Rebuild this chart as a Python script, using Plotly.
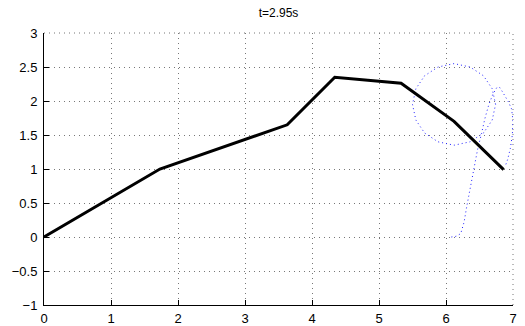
import plotly.graph_objects as go

# Arm links (joint positions)
arm_x = [0.0, 1.73, 3.63, 4.34, 5.33, 6.12, 6.86]
arm_y = [0.0, 1.00, 1.65, 2.35, 2.26, 1.70, 0.99]

# Target circle
circle_x = [6.74, 6.69, 6.56, 6.36, 6.12, 5.88, 5.68, 5.55, 5.50,
            5.55, 5.68, 5.88, 6.12, 6.36, 6.56, 6.69, 6.74]
circle_y = [1.95, 2.18, 2.37, 2.50, 2.55, 2.50, 2.37, 2.18, 1.95,
            1.72, 1.53, 1.40, 1.35, 1.40, 1.53, 1.72, 1.95]

# Tip trajectory
path_x = [6.08, 6.15, 6.22, 6.27, 6.31, 6.36, 6.41, 6.47, 6.53, 6.58,
          6.64, 6.70, 6.76, 6.80, 6.84, 6.88, 6.93, 6.98, 7.00, 6.99,
          6.96, 6.92, 6.88]
path_y = [0.00, 0.01, 0.05, 0.22, 0.45, 0.72, 1.00, 1.28, 1.52, 1.74,
          1.95, 2.10, 2.20, 2.20, 2.14, 2.07, 1.99, 1.88, 1.70, 1.50,
          1.30, 1.14, 1.03]

x_ticks = [0, 1, 2, 3, 4, 5, 6, 7]
y_ticks = [-1, -0.5, 0, 0.5, 1, 1.5, 2, 2.5, 3]

GRID_COLOR = "#777777"
GRID_DASH = "1px,4px"
BLUE_DASH = "1px,3px"

fig = go.Figure()
fig.add_trace(go.Scatter(x=circle_x, y=circle_y, mode="lines",
                         line=dict(color="#2222ff", width=1, dash=BLUE_DASH),
                         hoverinfo="skip"))
fig.add_trace(go.Scatter(x=path_x, y=path_y, mode="lines",
                         line=dict(color="#2222ff", width=1, dash=BLUE_DASH),
                         hoverinfo="skip"))
fig.add_trace(go.Scatter(x=arm_x, y=arm_y, mode="lines",
                         line=dict(color="black", width=3)))

axis_common = dict(
    showline=True, linecolor="black", linewidth=1,
    ticks="inside", ticklen=5, tickcolor="black", tickwidth=1,
    showgrid=True, gridcolor=GRID_COLOR, gridwidth=1, griddash=GRID_DASH,
    zeroline=False, mirror=False, automargin=False,
    tickfont=dict(family="Liberation Sans, Arial, sans-serif", size=13, color="black"),
)

# dotted grid lines along the top and right edges of the plot area
edge_lines = [
    dict(type="line", xref="paper", yref="paper", x0=0, x1=1, y0=1, y1=1),
    dict(type="line", xref="paper", yref="paper", x0=1, x1=1, y0=0, y1=1),
]
for s in edge_lines:
    s["line"] = dict(color=GRID_COLOR, width=1, dash=GRID_DASH)
    s["layer"] = "below"

fig.update_layout(
    width=525, height=326,
    margin=dict(l=44, r=12, t=33, b=21),
    paper_bgcolor="white", plot_bgcolor="white",
    showlegend=False,
    shapes=edge_lines,
    title=dict(text="t=2.95s", x=0.5, xanchor="center", y=0.962, yanchor="middle",
               xref="paper",
               font=dict(family="Liberation Sans, Arial, sans-serif", size=12, color="black")),
    xaxis=dict(range=[0, 7], tickvals=x_ticks, ticklabelstandoff=1, **axis_common),
    yaxis=dict(range=[-1, 3], tickvals=y_ticks, ticklabelstandoff=3, **axis_common),
)

fig.write_html("out.html")
